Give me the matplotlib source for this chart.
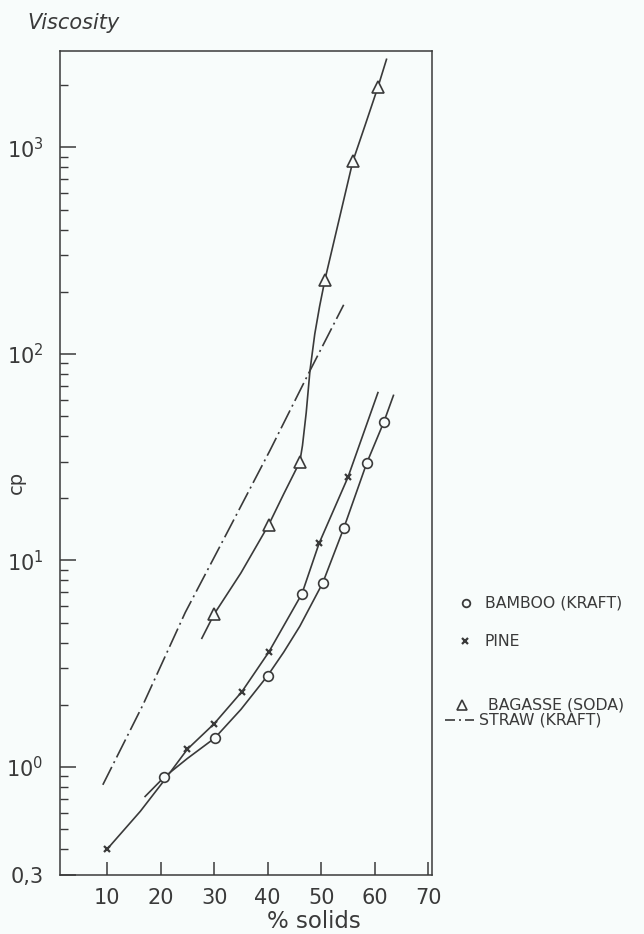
import matplotlib
matplotlib.use("Agg")
import matplotlib.pyplot as plt
from matplotlib.ticker import FixedLocator, FixedFormatter, NullFormatter, LogLocator, NullLocator
from matplotlib.lines import Line2D
import matplotlib.font_manager as fm

# ---------------- data ----------------
bamboo_x = [20.6, 30.1, 40.0, 46.4, 50.3, 54.2, 58.5, 61.7]
bamboo_y = [0.89, 1.38, 2.77, 6.9, 7.8, 14.3, 29.6, 46.8]
bamboo_curve_x = [17.1, 20.6, 25.0, 30.1, 35.0, 40.0, 43.0, 46.0, 50.3, 54.2, 58.5, 61.7, 63.5]
bamboo_curve_y = [0.72, 0.89, 1.10, 1.38, 1.90, 2.77, 3.6, 4.8, 7.8, 14.3, 29.6, 46.8, 63.0]

pine_x = [10.0, 25.0, 30.0, 35.2, 40.2, 49.6, 55.0]
pine_y = [0.40, 1.22, 1.62, 2.32, 3.60, 12.1, 25.3]
pine_curve_x = [10.0, 16.2, 20.5, 25.0, 30.0, 35.2, 40.2, 46.4, 49.6, 55.0, 60.6]
pine_curve_y = [0.40, 0.61, 0.85, 1.22, 1.62, 2.32, 3.60, 6.9, 12.1, 25.3, 65.0]

bagasse_x = [30.0, 40.2, 46.0, 50.7, 55.9, 60.6]
bagasse_y = [5.5, 14.9, 30.0, 229.0, 855.0, 1960.0]
bagasse_curve_x = [27.7, 30.0, 35.0, 40.2, 43.0, 46.0, 46.5, 47.2, 47.9, 48.8, 49.7, 50.7,
                   53.0, 55.9, 58.2, 60.6, 62.2]
bagasse_curve_y = [4.2, 5.5, 8.7, 14.9, 21.0, 30.0, 36.0, 52.0, 83.0, 125.0, 170.0, 229.0,
                   410.0, 855.0, 1280.0, 1960.0, 2670.0]

straw_x = [9.2, 16.7, 24.6, 32.0, 40.4, 47.9, 54.2]
straw_y = [0.82, 2.0, 5.6, 13.0, 34.0, 83.0, 173.0]

x_ticks = [10, 20, 30, 40, 50, 60, 70]
y_ticks = [0.3, 1, 10, 100, 1000]
y_tick_labels = ["0,3", r"$\mathregular{10^{0}}$", r"$\mathregular{10^{1}}$",
                 r"$\mathregular{10^{2}}$", r"$\mathregular{10^{3}}$"]

legend_labels = ["BAMBOO (KRAFT)", "PINE", "BAGASSE (SODA)", "STRAW (KRAFT)"]

# ---------------- style ----------------
BG = "#f8fcfb"
INK = "#3a3a3a"
W, H = 644, 934


def have(name):
    try:
        fm.findfont(fm.FontProperties(family=name), fallback_to_default=False)
        return True
    except Exception:
        return False


NARROW = "Liberation Sans Narrow" if have("Liberation Sans Narrow") else "DejaVu Sans"
plt.rcParams["font.family"] = ["DejaVu Sans"]

fig = plt.figure(figsize=(W / 100, H / 100), dpi=100, facecolor=BG)
ax = fig.add_axes([60 / W, 1 - 875 / H, (432 - 60) / W, (875 - 51) / H])
ax.set_facecolor(BG)
ax.set_yscale("log")
ax.set_xlim(1.2, 70.7)
ax.set_ylim(0.3, 2930)

lw = 1.2
ax.plot(bamboo_curve_x, bamboo_curve_y, color=INK, lw=lw, zorder=2)
ax.plot(pine_curve_x, pine_curve_y, color=INK, lw=lw, zorder=2)
ax.plot(bagasse_curve_x, bagasse_curve_y, color=INK, lw=lw, zorder=2)
ax.plot(straw_x, straw_y, color=INK, lw=lw, linestyle=(0, (12, 2.6, 1.2, 2.6)), zorder=2)

ax.plot(bamboo_x, bamboo_y, "o", ms=7, mfc=BG, mec=INK, mew=1.2, zorder=3)
ax.plot(pine_x, pine_y, "x", ms=5, mec=INK, mew=1.6, zorder=3)
ax.plot(bagasse_x, bagasse_y, "^", ms=9, mfc=BG, mec=INK, mew=1.2, zorder=3)

for s in ax.spines.values():
    s.set_color(INK)
    s.set_linewidth(1.1)

ax.xaxis.set_major_locator(FixedLocator(x_ticks))
ax.xaxis.set_minor_locator(NullLocator())
ax.tick_params(axis="x", which="major", direction="in", length=9.4, width=1.1,
               color=INK, pad=9, labelsize=15, labelcolor=INK, top=False)
ax.yaxis.set_major_locator(FixedLocator(y_ticks))
ax.yaxis.set_major_formatter(FixedFormatter(y_tick_labels))
ax.yaxis.set_minor_locator(LogLocator(base=10, subs=[2, 3, 4, 5, 6, 7, 8, 9], numticks=20))
ax.yaxis.set_minor_formatter(NullFormatter())
ax.tick_params(axis="y", which="major", direction="in", length=11.5, width=1.1,
               color=INK, pad=12, labelsize=15, labelcolor=INK, right=False)
ax.tick_params(axis="y", which="minor", direction="in", length=5.8, width=1.0,
               color=INK, right=False)
for lab in ax.get_xticklabels() + ax.get_yticklabels():
    lab.set_family([NARROW, "DejaVu Sans"])

# axis titles
fig.text(27 / W, 1 - 29 / H, "Viscosity", fontsize=15, style="italic", color=INK,
         ha="left", va="baseline")
fig.text(16 / W, 1 - 482 / H, "cp", fontsize=14, rotation=90, color=INK,
         ha="center", va="center")
fig.text(314 / W, 1 - 921 / H, "% solids", fontsize=16.5, color=INK,
         ha="center", va="center")

# legend (drawn freely at the right of the plot)
def fx(px):
    return px / W


def fy(py):
    return 1 - py / H


fig.add_artist(Line2D([fx(466)], [fy(603)], marker="o", ms=5.5, mfc=BG, mec=INK, mew=1.3,
                      transform=fig.transFigure))
fig.add_artist(Line2D([fx(465)], [fy(641)], marker="x", ms=4.5, mec=INK, mew=1.6,
                      transform=fig.transFigure))
fig.add_artist(Line2D([fx(462)], [fy(705)], marker="^", ms=7.5, mfc=BG, mec=INK, mew=1.2,
                      transform=fig.transFigure))
fig.add_artist(Line2D([fx(445), fx(474)], [fy(720), fy(720)], color=INK, lw=1.2,
                      linestyle=(0, (6, 2.4, 1.2, 2.4)), transform=fig.transFigure))
leg_pos = [(485, 603), (485, 641), (488, 705), (479, 720)]
for (px, py), txt in zip(leg_pos, legend_labels):
    fig.text(fx(px), fy(py), txt, fontsize=11.3, color=INK, ha="left", va="center")

fig.savefig("out.png", dpi=100, facecolor=BG)
